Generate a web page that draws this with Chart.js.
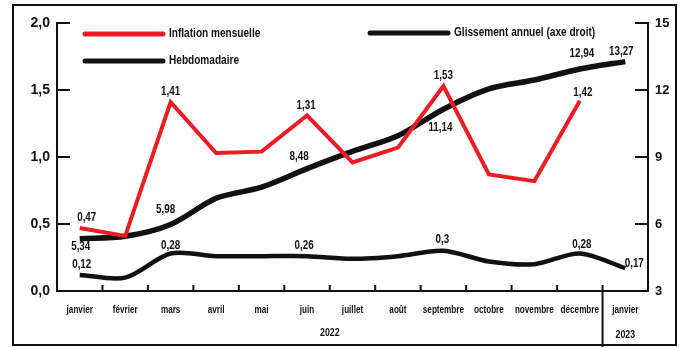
<!DOCTYPE html>
<html lang="fr">
<head>
<meta charset="utf-8">
<title>Inflation mensuelle, hebdomadaire et glissement annuel</title>
<script src="https://cdn.jsdelivr.net/npm/chart.js@4/dist/chart.umd.min.js"></script>
<style>
  html, body { margin: 0; padding: 0; background: #fff; }
  canvas { display: block; }
</style>
</head>
<body>
<canvas id="graph" width="684" height="347"></canvas>
<script>
// Données
const mois = ['janvier', 'février', 'mars', 'avril', 'mai', 'juin', 'juillet', 'août', 'septembre', 'octobre', 'novembre', 'décembre', 'janvier'];
const inflationMensuelle = [0.47, 0.41, 1.41, 1.03, 1.04, 1.31, 0.96, 1.07, 1.53, 0.87, 0.82, 1.42, null];
const glissementAnnuel = [5.34, 5.45, 5.98, 7.15, 7.65, 8.48, 9.25, 9.95, 11.14, 12.05, 12.45, 12.94, 13.27];
const hebdomadaire = [0.12, 0.10, 0.28, 0.26, 0.26, 0.26, 0.24, 0.26, 0.3, 0.22, 0.20, 0.28, 0.17];
const ticksGauche = [0, 0.5, 1, 1.5, 2];
const ticksDroite = [3, 6, 9, 12, 15];
const annees = ['2022', '2023'];

const ROUGE = '#ec1c24';
const NOIR = '#111111';
const POLICE = "'Liberation Sans', Arial, sans-serif";

// étiquettes de valeur : index du point -> décalage (dx, dy) du texte
const etiquettes = [
  { [0]: [7, -10], [2]: [0, -10], [5]: [-1, -10], [8]: [0, -10], [11]: [3, -8] },
  { [0]: [1, 8], [2]: [-5, -15], [5]: [-8, -12], [8]: [-3, 18], [11]: [2, -15], [12]: [-4, -10] },
  { [0]: [2, -10], [2]: [0, -8], [5]: [-3, -10], [8]: [-1, -11], [11]: [2, -9], [12]: [9, -5] },
];

const virgule = v => String(v).replace('.', ',');

// texte compressé horizontalement (police étroite)
function texteEtroit(ctx, texte, x, y, serrage) {
  ctx.save();
  ctx.translate(x, y);
  ctx.scale(serrage, 1);
  ctx.fillText(texte, 0, 0);
  ctx.restore();
}

const pluginDessin = {
  id: 'dessin',
  beforeDraw(chart) {
    const ctx = chart.ctx;
    ctx.save();
    ctx.fillStyle = '#fff';
    ctx.fillRect(0, 0, chart.width, chart.height);
    ctx.restore();
  },
  afterDraw(chart) {
    const ctx = chart.ctx;
    const x = chart.scales.x, y = chart.scales.y, y2 = chart.scales.y2;
    const area = chart.chartArea;
    ctx.save();
    ctx.strokeStyle = NOIR;
    ctx.lineWidth = 2;

    // graduations vers l'intérieur
    ticksGauche.forEach(v => {
      const py = y.getPixelForValue(v);
      ctx.beginPath(); ctx.moveTo(area.left, py); ctx.lineTo(area.left + 13, py); ctx.stroke();
    });
    ticksDroite.forEach(v => {
      const py = y2.getPixelForValue(v);
      ctx.beginPath(); ctx.moveTo(area.right, py); ctx.lineTo(area.right - 13, py); ctx.stroke();
    });
    for (let i = 0; i < mois.length - 1; i++) {
      const px = (x.getPixelForValue(i) + x.getPixelForValue(i + 1)) / 2;
      ctx.beginPath(); ctx.moveTo(px, area.bottom); ctx.lineTo(px, area.bottom - 6); ctx.stroke();
    }
    // séparation 2022 / 2023
    const sep = (x.getPixelForValue(11) + x.getPixelForValue(12)) / 2;
    ctx.beginPath(); ctx.moveTo(sep, area.bottom); ctx.lineTo(sep, chart.height); ctx.stroke();

    // mois
    ctx.fillStyle = NOIR;
    ctx.textAlign = 'center';
    ctx.textBaseline = 'middle';
    ctx.font = 'bold 11px ' + POLICE;
    mois.forEach((m, i) => texteEtroit(ctx, m, x.getPixelForValue(i), area.bottom + 19, 0.74));

    // années
    ctx.font = 'bold 11px ' + POLICE;
    texteEtroit(ctx, annees[0], (x.getPixelForValue(5) + x.getPixelForValue(6)) / 2, area.bottom + 42, 0.8);
    texteEtroit(ctx, annees[1], x.getPixelForValue(12), area.bottom + 44, 0.8);

    // valeurs
    ctx.font = 'bold 12px ' + POLICE;
    chart.data.datasets.forEach((ds, d) => {
      const meta = chart.getDatasetMeta(d);
      Object.keys(etiquettes[d]).forEach(k => {
        const i = Number(k);
        const pt = meta.data[i];
        const [dx, dy] = etiquettes[d][i];
        texteEtroit(ctx, virgule(ds.data[i]), pt.x + dx, pt.y + dy, 0.82);
      });
    });

    // légende
    const legende = [
      { ds: 0, x: 85, y: 34 },
      { ds: 2, x: 85, y: 61 },
      { ds: 1, x: 370, y: 33 },
    ];
    ctx.textAlign = 'left';
    legende.forEach(l => {
      const ds = chart.data.datasets[l.ds];
      ctx.strokeStyle = ds.borderColor;
      ctx.lineWidth = 5;
      ctx.lineCap = 'round';
      ctx.beginPath(); ctx.moveTo(l.x, l.y); ctx.lineTo(l.x + 78, l.y); ctx.stroke();
      ctx.fillStyle = NOIR;
      texteEtroit(ctx, ds.label, l.x + 84, l.y, 0.84);
    });

    // cadre
    ctx.lineCap = 'butt';
    ctx.strokeStyle = NOIR;
    ctx.lineWidth = 2;
    ctx.strokeRect(13, 5, 663, 340);
    ctx.restore();
  }
};

new Chart(document.getElementById('graph').getContext('2d'), {
  type: 'line',
  data: {
    labels: mois,
    datasets: [
      {
        label: 'Inflation mensuelle',
        data: inflationMensuelle,
        yAxisID: 'y',
        borderColor: ROUGE,
        borderWidth: 4,
        tension: 0,
        pointRadius: 0,
        spanGaps: false,
      },
      {
        label: 'Glissement annuel (axe droit)',
        data: glissementAnnuel,
        yAxisID: 'y2',
        borderColor: NOIR,
        borderWidth: 5.5,
        tension: 0.3,
        pointRadius: 0,
      },
      {
        label: 'Hebdomadaire',
        data: hebdomadaire,
        yAxisID: 'y',
        borderColor: NOIR,
        borderWidth: 4.5,
        tension: 0.3,
        pointRadius: 0,
      },
    ],
  },
  options: {
    responsive: false,
    animation: false,
    devicePixelRatio: 1,
    layout: { padding: { top: 23, left: 0, right: 0, bottom: 0 } },
    plugins: {
      legend: { display: false },
      tooltip: { enabled: false },
    },
    scales: {
      x: {
        offset: true,
        grid: { display: false, drawTicks: false },
        border: { display: true, width: 2, color: NOIR },
        // libellés des mois dessinés en police étroite par le plugin
        ticks: { display: false, autoSkip: false },
        afterFit(scale) { scale.height = 56; },
      },
      y: {
        position: 'left',
        min: 0,
        max: 2,
        afterBuildTicks(scale) { scale.ticks = ticksGauche.map(v => ({ value: v })); },
        grid: { display: false, drawTicks: false },
        border: { display: true, width: 2, color: NOIR },
        ticks: {
          color: NOIR,
          padding: 7,
          font: { family: POLICE, size: 14, weight: 'bold' },
          callback: v => v.toFixed(1).replace('.', ','),
        },
        afterFit(scale) { scale.width = 57; },
      },
      y2: {
        position: 'right',
        min: 3,
        max: 15,
        afterBuildTicks(scale) { scale.ticks = ticksDroite.map(v => ({ value: v })); },
        grid: { display: false, drawTicks: false },
        border: { display: true, width: 2, color: NOIR },
        ticks: {
          color: NOIR,
          padding: 7,
          font: { family: POLICE, size: 13, weight: 'bold' },
          callback: v => String(v),
        },
        afterFit(scale) { scale.width = 36; },
      },
    },
  },
  plugins: [pluginDessin],
});
</script>
</body>
</html>
